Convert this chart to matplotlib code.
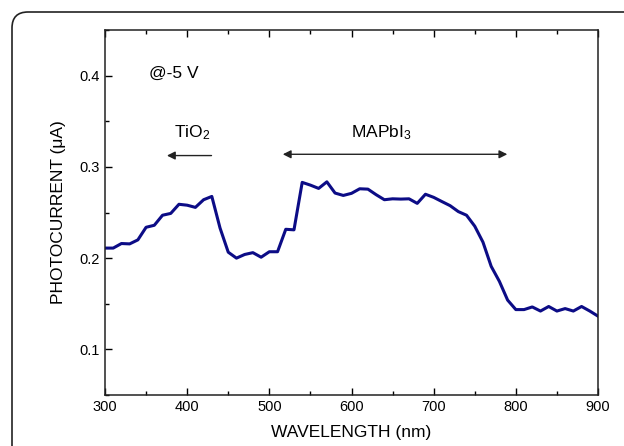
import matplotlib
matplotlib.use('Agg')
from matplotlib import pyplot as plt
from matplotlib.patches import PathPatch
from matplotlib.path import Path
from matplotlib.ticker import MultipleLocator

plt.rcParams['font.family'] = ['Liberation Sans', 'DejaVu Sans']
plt.rcParams['mathtext.fontset'] = 'custom'
plt.rcParams['mathtext.rm'] = 'Liberation Sans'
plt.rcParams['mathtext.it'] = 'Liberation Sans'

wavelength = list(range(300, 910, 10))
current = [0.211, 0.211, 0.216, 0.2156, 0.220, 0.2338, 0.236, 0.247, 0.249, 0.259,
           0.258, 0.2556, 0.264, 0.2676, 0.233, 0.2065, 0.200, 0.204, 0.206, 0.201,
           0.207, 0.207, 0.2316, 0.231, 0.283, 0.280, 0.2764, 0.2836, 0.2713, 0.2687,
           0.271, 0.276, 0.2756, 0.2695, 0.264, 0.265, 0.2647, 0.265, 0.260, 0.270,
           0.2666, 0.262, 0.2575, 0.251, 0.247, 0.235, 0.2175, 0.191, 0.1745, 0.154,
           0.1436, 0.1436, 0.1465, 0.142, 0.147, 0.142, 0.1447, 0.142, 0.147, 0.142,
           0.1364]

fig = plt.figure(figsize=(6.24, 4.46), dpi=100)

# rounded frame corner, left and top edges only (in pixels)
x0, y0, r = 12, 446 - 12, 16
verts = [(x0, -10), (x0, y0 - r), (x0, y0), (x0 + r, y0), (640, y0)]
codes = [Path.MOVETO, Path.LINETO, Path.CURVE3, Path.CURVE3, Path.LINETO]
frame = PathPatch(Path(verts, codes), fill=False, edgecolor='#222222',
                  linewidth=1.2, transform=None)
fig.patches.append(frame)

ax = fig.add_axes([105 / 624, 1 - 395 / 446, 493 / 624, 365 / 446])
ax.plot(wavelength, current, color='#0c0c86', linewidth=2.2)

ax.set_xlim(300, 900)
ax.set_ylim(0.05, 0.45)
ax.xaxis.set_major_locator(MultipleLocator(100))
ax.xaxis.set_minor_locator(MultipleLocator(50))
ax.yaxis.set_minor_locator(MultipleLocator(0.05))
ax.set_yticks([0.1, 0.2, 0.3, 0.4])
ax.set_yticklabels(['0.1', '0.2', '0.3', '0.4'])
ax.tick_params(which='both', direction='in', top=True, right=False, labelsize=10.5, width=1.0)
ax.tick_params(which='major', length=5)
ax.tick_params(which='minor', length=3)
for s in ax.spines.values():
    s.set_linewidth(1.1)
    s.set_color('#222222')

ax.set_xlabel('WAVELENGTH (nm)', fontsize=12.5, labelpad=8)
ax.set_ylabel('PHOTOCURRENT (\u03bcA)', fontsize=12.5, labelpad=10)

ax.text(353, 0.403, '@-5 V', fontsize=12.5, ha='left', va='center')
ax.text(406, 0.337, r'TiO$_2$', fontsize=12.5, ha='center', va='center')
ax.text(636, 0.338, r'MAPbI$_3$', fontsize=12.5, ha='center', va='center')
ax.annotate('', xy=(372, 0.3124), xytext=(433, 0.3124),
            arrowprops=dict(arrowstyle='-|>', color='#222222', lw=1.0, mutation_scale=12))
ax.annotate('', xy=(793, 0.3138), xytext=(513, 0.3138),
            arrowprops=dict(arrowstyle='<|-|>', color='#222222', lw=1.0, mutation_scale=12))

fig.savefig('out.png', dpi=100)
